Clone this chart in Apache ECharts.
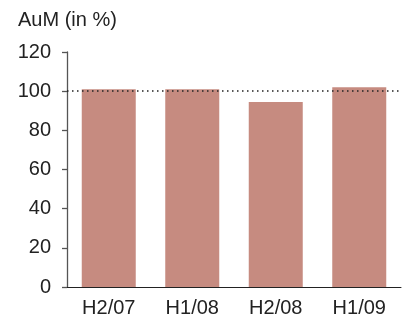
<!DOCTYPE html>
<html>
<head>
<meta charset="utf-8">
<script src="https://cdn.jsdelivr.net/npm/echarts@6/dist/echarts.min.js"></script>
<style>
  html, body { margin: 0; padding: 0; background: #fff; }
  #chart { width: 414px; height: 322px; }
</style>
</head>
<body>
<div id="chart"></div>
<script>
// Half-year periods and assets under management, indexed (in %)
const periods = ['H2/07', 'H1/08', 'H2/08', 'H1/09'];
const aumValues = [101, 101, 94.5, 102];
const referenceLevel = 100;
const yTicks = [0, 20, 40, 60, 80, 100, 120];

const chart = echarts.init(document.getElementById('chart'));
const font = 'Liberation Sans, Arial, Helvetica, sans-serif';

chart.setOption({
  animation: false,
  title: {
    text: 'AuM (in %)',
    left: 13,
    top: 5,
    textStyle: { fontFamily: font, fontSize: 20, fontWeight: 'normal', color: '#222' }
  },
  grid: { left: 67, right: 13, top: 52, bottom: 35 },
  xAxis: {
    type: 'category',
    data: periods,
    axisLine: { show: true, lineStyle: { color: '#222', width: 1 } },
    axisTick: { show: false },
    axisLabel: { fontFamily: font, fontSize: 20, color: '#222', margin: 11 }
  },
  yAxis: {
    type: 'value',
    min: yTicks[0],
    max: yTicks[yTicks.length - 1],
    interval: yTicks[1] - yTicks[0],
    axisLine: { show: true, lineStyle: { color: '#555', width: 1.3 } },
    axisTick: { show: true, length: 5, lineStyle: { color: '#555', width: 1.3 } },
    splitLine: { show: false },
    axisLabel: { fontFamily: font, fontSize: 20, color: '#222', margin: 16 }
  },
  series: [{
    type: 'bar',
    data: aumValues,
    barWidth: 54,
    itemStyle: { color: '#c68b80' },
    markLine: {
      silent: true,
      symbol: 'none',
      label: { show: false },
      lineStyle: { type: [1.5, 3.5], color: '#222', width: 1.5 },
      data: [{ yAxis: referenceLevel }]
    }
  }]
});
</script>
</body>
</html>
